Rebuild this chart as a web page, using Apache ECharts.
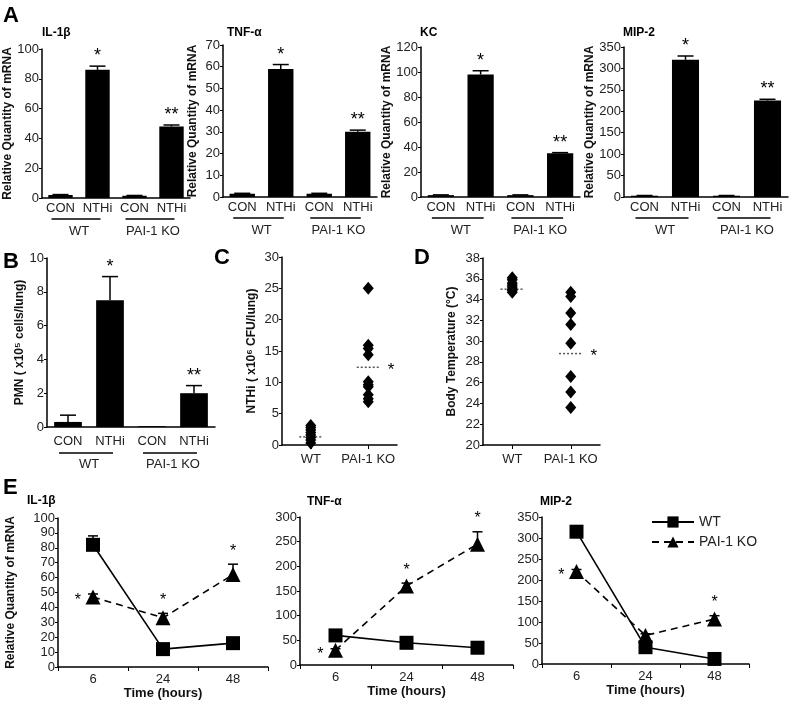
<!DOCTYPE html>
<html><head><meta charset="utf-8">
<script src="https://cdn.jsdelivr.net/npm/echarts@6/dist/echarts.min.js"></script>
<style>html,body{margin:0;padding:0;background:#fff}#c{width:800px;height:706px}</style>
</head><body><div id="c"></div>
<script>
// ---------------- data ----------------
const barCats = ['CON', 'NTHi', 'CON', 'NTHi'];
const groupNames = ['WT', 'PAI-1 KO'];
const barStars = ['', '*', '', '**'];

const il1bBar = [2, 86, 1.5, 48];
const il1bBarErr = [0.3, 2.5, 0.2, 1];
const tnfBar = [1.5, 59, 1.5, 30];
const tnfBarErr = [0.2, 2, 0.2, 0.8];
const kcBar = [1.5, 98, 1.5, 35];
const kcBarErr = [0.2, 3, 0.2, 0.5];
const mipBar = [3, 320, 3, 225];
const mipBarErr = [0.5, 9, 0.5, 3];

const pmn = [0.3, 7.5, 0.05, 2.0];
const pmnErr = [0.4, 1.4, 0, 0.45];

const scatterCats = ['WT', 'PAI-1 KO'];
const cfuWT = [0.3, 0.8, 1.2, 1.6, 2.0, 2.4, 2.8, 3.1];
const cfuKO = [25, 15.9, 15.4, 14.4, 10.1, 9.6, 9.3, 8.0, 7.4, 6.9];
const cfuMean = [1.3, 12.4];
const cfuStars = ['', '*'];
const tempWT = [34.7, 34.9, 35.0, 35.2, 35.4, 35.6, 35.9, 36.1];
const tempKO = [34.7, 34.3, 32.7, 31.6, 29.8, 26.6, 25.1, 23.6];
const tempMean = [35.0, 28.8];
const tempStars = ['', '*'];

const hours = ['6', '24', '48'];
const il1bWT = [82, 12, 16];   const il1bWTErr = [6, 0, 0];
const il1bKO = [47, 33, 62];   const il1bKOErr = [2, 3, 7];
const il1bStars = ['left', 'top', 'top'];
const tnfWT = [60, 45, 35];    const tnfWTErr = [0, 0, 0];
const tnfKO = [30, 160, 245];  const tnfKOErr = [3, 6, 25];
const tnfStars = ['left', 'top', 'top'];
const mipWT = [315, 40, 12];   const mipWTErr = [4, 0, 0];
const mipKO = [220, 68, 107];  const mipKOErr = [5, 4, 8];
const mipStars = ['left', '', 'top'];

// ---------------- helpers ----------------
const FONT = '"Liberation Sans", Arial, sans-serif';
const TXT = '#222';
const chart = echarts.init(document.getElementById('c'));

function grid(left, top, width, height) {
  return { left, top, width, height, containLabel: false, outerBoundsMode: 'none' };
}
function yAx(gi, min, max, interval, name, nameGap) {
  return {
    type: 'value', gridIndex: gi, min, max, interval,
    splitLine: { show: false },
    axisLine: { show: true, lineStyle: { color: '#000', width: 1.5 } },
    axisTick: { show: true, length: 3, lineStyle: { color: '#000' } },
    axisLabel: { color: TXT, fontSize: 13, margin: 3, fontFamily: FONT },
    name: name || '', nameLocation: 'middle', nameGap: nameGap || 0,
    nameTextStyle: { fontWeight: 'bold', fontSize: 12, color: '#111', fontFamily: FONT }
  };
}
function xCat(gi, data, o) {
  o = o || {};
  return {
    type: 'category', gridIndex: gi, data,
    axisLine: { show: true, lineStyle: { color: '#000', width: 1.5 } },
    axisTick: o.tick ? { show: true, length: 4, alignWithLabel: !!o.align, lineStyle: { color: '#000' } } : { show: false },
    axisLabel: { color: TXT, fontSize: 13, margin: o.margin || 4, fontFamily: FONT, interval: 0 },
    name: o.name || '', nameLocation: 'middle', nameGap: o.nameGap || 0,
    nameTextStyle: { fontWeight: 'bold', fontSize: 13, color: '#111', fontFamily: FONT }
  };
}
function barSeries(i, vals) {
  return { type: 'bar', xAxisIndex: i, yAxisIndex: i, data: vals, barWidth: '66%',
    itemStyle: { color: '#000' }, silent: true };
}
function barErr(i, vals, errs, stars) {
  return {
    type: 'custom', xAxisIndex: i, yAxisIndex: i, z: 5, silent: true,
    data: vals.map((v, k) => [k, v]),
    renderItem(params, api) {
      const k = params.dataIndex, m = vals[k], e = errs[k];
      const b = api.coord([k, m]), t = api.coord([k, m + e]);
      const ch = [];
      const st = { stroke: '#000', lineWidth: 1.5 };
      if (e > 0) {
        ch.push({ type: 'line', shape: { x1: b[0], y1: b[1], x2: t[0], y2: t[1] }, style: st });
        ch.push({ type: 'line', shape: { x1: t[0] - 8, y1: t[1], x2: t[0] + 8, y2: t[1] }, style: st });
      }
      if (stars[k]) {
        ch.push({ type: 'text', style: { text: stars[k], x: t[0], y: t[1] - 1, align: 'center', verticalAlign: 'bottom',
          textAlign: 'center', textVerticalAlign: 'bottom', font: '18px ' + FONT, fill: '#000' } });
      }
      return { type: 'group', children: ch };
    }
  };
}
function meanLines(xi, yi, means, stars) {
  const out = [];
  means.forEach((m, k) => {
    out.push({ type: 'line', xAxisIndex: xi, yAxisIndex: yi, silent: true, symbol: 'none', z: 1,
      data: [[k + 0.5 - 0.2, m], [k + 0.5 + 0.2, m]],
      lineStyle: { type: [2, 2], color: '#555', width: 1.5 } });
  });
  out.push({
    type: 'custom', xAxisIndex: xi, yAxisIndex: yi, silent: true,
    data: means.map((m, k) => [k + 0.7, m]),
    renderItem(params, api) {
      const k = params.dataIndex;
      if (!stars[k]) return { type: 'group', children: [] };
      const p = api.coord([k + 0.5 + 0.2, means[k]]);
      return { type: 'text', style: { text: stars[k], x: p[0] + 8, y: p[1] + 3, align: 'left', verticalAlign: 'middle',
        textAlign: 'left', textVerticalAlign: 'middle', font: '17px ' + FONT, fill: '#000' } };
    }
  });
  return out;
}
function lineSeries(i, name, vals, isKO) {
  return {
    type: 'line', name, xAxisIndex: i, yAxisIndex: i, data: vals, z: 3,
    symbol: isKO ? 'triangle' : 'rect', symbolSize: isKO ? 15 : 14,
    itemStyle: { color: '#000', opacity: 1 },
    lineStyle: { color: '#000', width: 1.6, type: isKO ? [7, 5] : 'solid' },
    silent: true
  };
}
function timeErr(i, wt, wtE, ko, koE, stars) {
  return {
    type: 'custom', xAxisIndex: i, yAxisIndex: i, z: 2, silent: true,
    data: hours.map((h, k) => [k, ko[k]]),
    renderItem(params, api) {
      const k = params.dataIndex, ch = [];
      const st = { stroke: '#000', lineWidth: 1.5 };
      [[wt[k], wtE[k]], [ko[k], koE[k]]].forEach(([m, e]) => {
        if (e > 0) {
          const b = api.coord([k, m]), t = api.coord([k, m + e]);
          ch.push({ type: 'line', shape: { x1: b[0], y1: b[1], x2: t[0], y2: t[1] }, style: st });
          ch.push({ type: 'line', shape: { x1: t[0] - 5, y1: t[1], x2: t[0] + 5, y2: t[1] }, style: st });
        }
      });
      if (stars[k] === 'left') {
        const p = api.coord([k, ko[k]]);
        ch.push({ type: 'text', style: { text: '*', x: p[0] - 12, y: p[1] + 4, align: 'right', verticalAlign: 'middle',
          textAlign: 'right', textVerticalAlign: 'middle', font: '16px ' + FONT, fill: '#000' } });
      } else if (stars[k] === 'top') {
        const t = api.coord([k, ko[k] + koE[k]]);
        ch.push({ type: 'text', style: { text: '*', x: t[0], y: t[1] - 5, align: 'center', verticalAlign: 'bottom',
          textAlign: 'center', textVerticalAlign: 'bottom', font: '16px ' + FONT, fill: '#000' } });
      }
      return { type: 'group', children: ch };
    }
  };
}

// ---------------- layout ----------------
const grids = [
  grid(42, 49, 148, 149),   // 0 A IL-1b
  grid(223, 45, 154, 152),  // 1 A TNF
  grid(421, 47, 159, 150),  // 2 A KC
  grid(624, 47, 164, 150),  // 3 A MIP-2
  grid(47, 258, 168, 169),  // 4 B
  grid(282, 257, 115, 188), // 5 C
  grid(483, 258, 117, 187), // 6 D
  grid(58, 518, 210, 149),  // 7 E IL-1b
  grid(300, 517, 213, 148), // 8 E TNF
  grid(542, 517, 207, 147)  // 9 E MIP
];
const RQ = 'Relative Quantity of mRNA';
const yAxes = [
  yAx(0, 0, 100, 20, RQ, 24),
  yAx(1, 0, 70, 10, RQ, 24),
  yAx(2, 0, 120, 20, RQ, 24),
  yAx(3, 0, 350, 50, RQ, 26),
  yAx(4, 0, 10, 2, 'PMN ( x10\u2075 cells/lung)', 21),
  yAx(5, 0, 30, 5, 'NTHi ( x10\u2076 CFU/lung)', 24),
  yAx(6, 20, 38, 2, 'Body Temperature (\u00B0C)', 25),
  yAx(7, 0, 100, 10, RQ, 41),
  yAx(8, 0, 300, 50),
  yAx(9, 0, 350, 50)
];
const xAxes = [
  xCat(0, barCats), xCat(1, barCats), xCat(2, barCats), xCat(3, barCats),
  xCat(4, barCats, { margin: 8 }),
  xCat(5, scatterCats, { margin: 8, tick: true, align: true }),
  xCat(6, scatterCats, { margin: 8, tick: true, align: true }),
  xCat(7, hours, { margin: 6, tick: true, name: 'Time (hours)', nameGap: 20 }),
  xCat(8, hours, { margin: 6, tick: true, name: 'Time (hours)', nameGap: 20 }),
  xCat(9, hours, { margin: 6, tick: true, name: 'Time (hours)', nameGap: 20 }),
  { type: 'value', gridIndex: 5, min: 0, max: 2, show: false },
  { type: 'value', gridIndex: 6, min: 0, max: 2, show: false }
];

const series = [
  lineSeries(7, 'WT', il1bWT, false), lineSeries(7, 'PAI-1 KO', il1bKO, true),
  timeErr(7, il1bWT, il1bWTErr, il1bKO, il1bKOErr, il1bStars),
  lineSeries(8, 'WT', tnfWT, false), lineSeries(8, 'PAI-1 KO', tnfKO, true),
  timeErr(8, tnfWT, tnfWTErr, tnfKO, tnfKOErr, tnfStars),
  lineSeries(9, 'WT', mipWT, false), lineSeries(9, 'PAI-1 KO', mipKO, true),
  timeErr(9, mipWT, mipWTErr, mipKO, mipKOErr, mipStars),

  barSeries(0, il1bBar), barErr(0, il1bBar, il1bBarErr, barStars),
  barSeries(1, tnfBar), barErr(1, tnfBar, tnfBarErr, barStars),
  barSeries(2, kcBar), barErr(2, kcBar, kcBarErr, barStars),
  barSeries(3, mipBar), barErr(3, mipBar, mipBarErr, barStars),
  barSeries(4, pmn), barErr(4, pmn, pmnErr, barStars),

  { type: 'scatter', name: 'cfu', xAxisIndex: 5, yAxisIndex: 5, symbol: 'diamond', symbolSize: [11, 13], silent: true,
    itemStyle: { color: '#000', opacity: 1 },
    data: cfuWT.map(v => [0, v]).concat(cfuKO.map(v => [1, v])) },
  ...meanLines(10, 5, cfuMean, cfuStars),
  { type: 'scatter', name: 'temp', xAxisIndex: 6, yAxisIndex: 6, symbol: 'diamond', symbolSize: [11, 13], silent: true,
    itemStyle: { color: '#000', opacity: 1 },
    data: tempWT.map(v => [0, v]).concat(tempKO.map(v => [1, v])) },
  ...meanLines(11, 6, tempMean, tempStars)
];

function T(text, left, top, size, bold) {
  return { type: 'text', left, top, style: { text, font: (bold ? 'bold ' : '') + size + 'px ' + FONT, fill: '#000' } };
}
const labels = [
  T('A', 3, 5, 22, true), T('B', 3, 251, 22, true), T('C', 214, 247, 22, true),
  T('D', 414, 247, 22, true), T('E', 3, 477, 22, true),
  T('IL-1\u03B2', 42, 27, 12, true), T('TNF-\u03B1', 227, 27, 12, true),
  T('KC', 420, 27, 12, true), T('MIP-2', 623, 27, 12, true),
  T('IL-1\u03B2', 27, 495, 12, true), T('TNF-\u03B1', 307, 496, 12, true), T('MIP-2', 540, 496, 12, true)
];

const option = {
  animation: false,
  backgroundColor: '#fff',
  textStyle: { fontFamily: FONT },
  grid: grids, xAxis: xAxes, yAxis: yAxes, series,
  legend: {
    data: ['WT', 'PAI-1 KO'], left: 646, top: 510, orient: 'vertical',
    itemWidth: 42, itemHeight: 14, itemGap: 6,
    textStyle: { fontSize: 14, color: TXT, fontFamily: FONT }
  },
  graphic: labels
};
chart.setOption(option);

// group underlines + group names under bar panels
const extra = [];
[0, 1, 2, 3, 4].forEach(i => {
  const px = barCats.map((c, k) => chart.convertToPixel({ xAxisIndex: i }, k));
  const base = chart.convertToPixel({ yAxisIndex: i }, yAxes[i].min);
  const lineY = base + (i === 4 ? 26 : 21);
  const textY = base + (i === 4 ? 37 : 33);
  groupNames.forEach((g, gi) => {
    const a = px[gi * 2], b = px[gi * 2 + 1];
    extra.push({ type: 'line', shape: { x1: a - 9, y1: lineY, x2: b + 3, y2: lineY }, style: { stroke: '#000', lineWidth: 1.3 } });
    extra.push({ type: 'text', x: (a + b) / 2, y: textY,
      style: { text: g, align: 'center', verticalAlign: 'middle', textAlign: 'center', textVerticalAlign: 'middle',
        font: '13px ' + FONT, fill: TXT } });
  });
});
chart.setOption({ graphic: labels.concat(extra) });
</script>
</body></html>
